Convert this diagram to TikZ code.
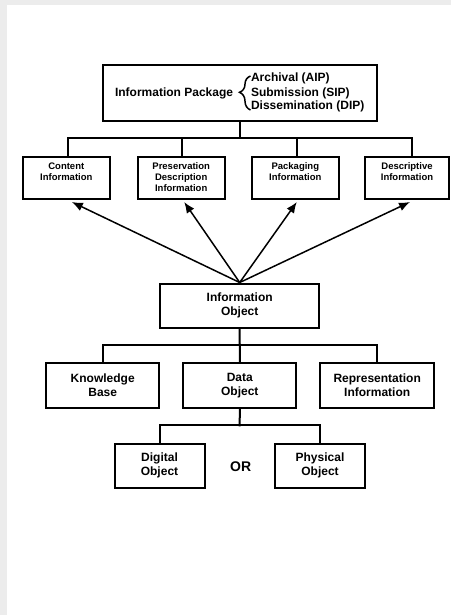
\documentclass[tikz,border=0pt]{standalone}
\usepackage{fontspec}
\setmainfont{Liberation Sans}
\usetikzlibrary{arrows.meta, decorations.pathreplacing}

\newcommand{\toptext}[2]{\parbox[c][#1][t]{78pt}{\centering #2}}

\begin{document}
\begin{tikzpicture}[x=1pt, y=-1pt,
  box/.style={draw, line width=2pt, align=center,
    font=\bfseries\fontsize{12}{14}\selectfont},
  smallbox/.style={box, minimum width=87pt, minimum height=42pt,
    font=\bfseries\fontsize{9.5}{11}\selectfont},
  midbox/.style={box, minimum width=113pt, minimum height=45pt},
  objbox/.style={box, minimum width=90pt, minimum height=44pt},
  link/.style={line width=2pt, line cap=rect},
  arr/.style={-{Latex[length=11pt, width=9pt]}, line width=1.5pt}]

  \useasboundingbox (0,0) rectangle (451,615);
  \fill [gray!15] (0,0) rectangle (7,615);
  \fill [gray!15] (0,0) rectangle (451,5);

  % Package and its parts
  \node [box, minimum width=274pt, minimum height=56pt] (ip) at (239.7,93.2)
    {Information Package\hspace{18pt}{\begin{tabular}{@{}l@{}}Archival (AIP)\\Submission (SIP)\\Dissemination (DIP)\end{tabular}}};
  \draw [line width=1.5pt, decorate, decoration={brace, amplitude=11pt, aspect=0.52}]
    (250.5,110) -- (250.5,76);

  \node [smallbox] (ci) at (66.3,178) {\toptext{30pt}{Content\\Information}};
  \node [smallbox] (pd) at (181.2,178) {\toptext{30pt}{Preservation\\Description\\Information}};
  \node [smallbox] (pk) at (295.3,178) {\toptext{30pt}{Packaging\\Information}};
  \node [smallbox, minimum width=82pt] (di) at (407,178) {\toptext{30pt}{Descriptive\\Information}};

  \coordinate (bus1) at (239.7,137.7);
  \draw [link] (ip.south) -- (bus1);
  \draw [link] ([xshift=2pt]ci.north |- bus1) -- ([xshift=4.5pt]di.north |- bus1);
  \foreach \n/\dx in {ci/2, pd/1, pk/1.5, di/4.5}
    \draw [link] ([xshift=\dx pt]\n.north) -- ([xshift=\dx pt]\n.north |- bus1);

  % Information object
  \node [box, minimum width=159pt, minimum height=44pt] (io) at (239.7,305.5) {Information\\Object};

  \foreach \n/\dx in {ci/5.5, pd/3, pk/1.5, di/3}
    \draw [arr] (io.north) -- ([xshift=\dx pt, yshift=-2pt]\n.south);

  \node [midbox] (kb) at (102.7,385.7) {Knowledge\\Base};
  \node [midbox] (do) at (239.8,385.7) {Data\\Object};
  \node [midbox, minimum width=114pt] (ri) at (377.2,385.7) {Representation\\Information};

  \coordinate (bus2) at (239.7,345);
  \draw [link] (io.south) -- (do.north);
  \draw [link] (kb.north) |- (bus2) -| (ri.north);

  % Digital or physical
  \node [objbox] (dig) at (159.5,465.7) {Digital\\Object};
  \node [objbox] (phy) at (320,465.7) {Physical\\Object};
  \node [font=\bfseries\fontsize{14}{16}\selectfont] (or) at (240.7,466.7) {OR};

  \coordinate (bus3) at (239.7,425.3);
  \draw [link] (do.south) -- (bus3);
  \draw [link] (dig.north) |- (bus3) -| (phy.north);

\end{tikzpicture}
\end{document}
